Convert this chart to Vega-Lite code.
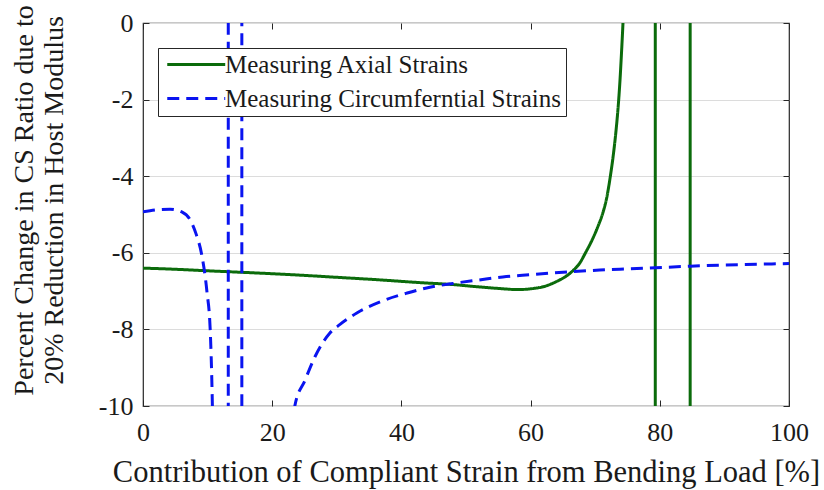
{
  "$schema": "https://vega.github.io/schema/vega-lite/v6.json",
  "width": 646,
  "height": 383,
  "autosize": {"type": "none"},
  "padding": {"left": 143, "top": 23, "right": 35, "bottom": 84},
  "background": "white",
  "config": {
    "view": {"stroke": "#262626", "strokeWidth": 1.2},
    "font": "Liberation Serif",
    "axis": {
      "labelFont": "Liberation Serif",
      "titleFont": "Liberation Serif",
      "labelColor": "#1a1a1a",
      "titleColor": "#1a1a1a",
      "titleFontWeight": "normal",
      "tickColor": "#262626",
      "tickSize": -6,
      "domain": false,
      "labelFlush": false,
      "labelOverlap": false,
      "labelExpr": "replace(datum.label, '\u2212', '-')"
    },
    "legend": {
      "labelFont": "Liberation Serif",
      "labelFontSize": 25,
      "labelColor": "#1a1a1a",
      "labelLimit": 0
    }
  },
  "data": {
    "values": [
      {"x": 0, "y": -6.4, "series": "Measuring Axial Strains", "seg": "a1"},
      {"x": 5, "y": -6.43, "series": "Measuring Axial Strains", "seg": "a1"},
      {"x": 10, "y": -6.47, "series": "Measuring Axial Strains", "seg": "a1"},
      {"x": 18, "y": -6.53, "series": "Measuring Axial Strains", "seg": "a1"},
      {"x": 25, "y": -6.59, "series": "Measuring Axial Strains", "seg": "a1"},
      {"x": 30, "y": -6.64, "series": "Measuring Axial Strains", "seg": "a1"},
      {"x": 36, "y": -6.7, "series": "Measuring Axial Strains", "seg": "a1"},
      {"x": 43, "y": -6.78, "series": "Measuring Axial Strains", "seg": "a1"},
      {"x": 48, "y": -6.83, "series": "Measuring Axial Strains", "seg": "a1"},
      {"x": 52, "y": -6.89, "series": "Measuring Axial Strains", "seg": "a1"},
      {"x": 55, "y": -6.93, "series": "Measuring Axial Strains", "seg": "a1"},
      {"x": 58, "y": -6.96, "series": "Measuring Axial Strains", "seg": "a1"},
      {"x": 60.5, "y": -6.93, "series": "Measuring Axial Strains", "seg": "a1"},
      {"x": 62.3, "y": -6.87, "series": "Measuring Axial Strains", "seg": "a1"},
      {"x": 63.5, "y": -6.79, "series": "Measuring Axial Strains", "seg": "a1"},
      {"x": 64.6, "y": -6.7, "series": "Measuring Axial Strains", "seg": "a1"},
      {"x": 65.6, "y": -6.6, "series": "Measuring Axial Strains", "seg": "a1"},
      {"x": 66.6, "y": -6.46, "series": "Measuring Axial Strains", "seg": "a1"},
      {"x": 67.6, "y": -6.27, "series": "Measuring Axial Strains", "seg": "a1"},
      {"x": 68.5, "y": -6.0, "series": "Measuring Axial Strains", "seg": "a1"},
      {"x": 69.7, "y": -5.6, "series": "Measuring Axial Strains", "seg": "a1"},
      {"x": 70.5, "y": -5.28, "series": "Measuring Axial Strains", "seg": "a1"},
      {"x": 71.2, "y": -4.95, "series": "Measuring Axial Strains", "seg": "a1"},
      {"x": 71.8, "y": -4.55, "series": "Measuring Axial Strains", "seg": "a1"},
      {"x": 72.3, "y": -4.05, "series": "Measuring Axial Strains", "seg": "a1"},
      {"x": 72.8, "y": -3.45, "series": "Measuring Axial Strains", "seg": "a1"},
      {"x": 73.2, "y": -2.85, "series": "Measuring Axial Strains", "seg": "a1"},
      {"x": 73.5, "y": -2.3, "series": "Measuring Axial Strains", "seg": "a1"},
      {"x": 73.8, "y": -1.6, "series": "Measuring Axial Strains", "seg": "a1"},
      {"x": 74.05, "y": -0.85, "series": "Measuring Axial Strains", "seg": "a1"},
      {"x": 74.3, "y": 0.0, "series": "Measuring Axial Strains", "seg": "a1"},
      {"x": 74.5, "y": 0.8, "series": "Measuring Axial Strains", "seg": "a1"},
      {"x": 79.3, "y": 1.0, "series": "Measuring Axial Strains", "seg": "a2"},
      {"x": 79.3, "y": -11.0, "series": "Measuring Axial Strains", "seg": "a2"},
      {"x": 84.7, "y": -11.0, "series": "Measuring Axial Strains", "seg": "a3"},
      {"x": 84.7, "y": 1.0, "series": "Measuring Axial Strains", "seg": "a3"},

      {"x": 0, "y": -4.93, "series": "Measuring Circumferntial Strains", "seg": "c1"},
      {"x": 2, "y": -4.88, "series": "Measuring Circumferntial Strains", "seg": "c1"},
      {"x": 4.2, "y": -4.86, "series": "Measuring Circumferntial Strains", "seg": "c1"},
      {"x": 6, "y": -4.93, "series": "Measuring Circumferntial Strains", "seg": "c1"},
      {"x": 7.3, "y": -5.14, "series": "Measuring Circumferntial Strains", "seg": "c1"},
      {"x": 8.2, "y": -5.5, "series": "Measuring Circumferntial Strains", "seg": "c1"},
      {"x": 9.1, "y": -6.06, "series": "Measuring Circumferntial Strains", "seg": "c1"},
      {"x": 9.9, "y": -7.02, "series": "Measuring Circumferntial Strains", "seg": "c1"},
      {"x": 10.4, "y": -8.0, "series": "Measuring Circumferntial Strains", "seg": "c1"},
      {"x": 10.7, "y": -9.66, "series": "Measuring Circumferntial Strains", "seg": "c1"},
      {"x": 10.8, "y": -10.5, "series": "Measuring Circumferntial Strains", "seg": "c1"},
      {"x": 13.2, "y": 1.0, "series": "Measuring Circumferntial Strains", "seg": "c2"},
      {"x": 13.2, "y": -11.0, "series": "Measuring Circumferntial Strains", "seg": "c2"},
      {"x": 15.3, "y": -11.0, "series": "Measuring Circumferntial Strains", "seg": "c3"},
      {"x": 15.3, "y": 1.0, "series": "Measuring Circumferntial Strains", "seg": "c3"},
      {"x": 23.2, "y": -10.6, "series": "Measuring Circumferntial Strains", "seg": "c4"},
      {"x": 23.5, "y": -10.0, "series": "Measuring Circumferntial Strains", "seg": "c4"},
      {"x": 25.1, "y": -9.32, "series": "Measuring Circumferntial Strains", "seg": "c4"},
      {"x": 26.6, "y": -8.72, "series": "Measuring Circumferntial Strains", "seg": "c4"},
      {"x": 28.9, "y": -8.1, "series": "Measuring Circumferntial Strains", "seg": "c4"},
      {"x": 30.5, "y": -7.87, "series": "Measuring Circumferntial Strains", "seg": "c4"},
      {"x": 33.1, "y": -7.57, "series": "Measuring Circumferntial Strains", "seg": "c4"},
      {"x": 36.7, "y": -7.28, "series": "Measuring Circumferntial Strains", "seg": "c4"},
      {"x": 40.9, "y": -7.05, "series": "Measuring Circumferntial Strains", "seg": "c4"},
      {"x": 44.4, "y": -6.9, "series": "Measuring Circumferntial Strains", "seg": "c4"},
      {"x": 48, "y": -6.8, "series": "Measuring Circumferntial Strains", "seg": "c4"},
      {"x": 52, "y": -6.71, "series": "Measuring Circumferntial Strains", "seg": "c4"},
      {"x": 55.7, "y": -6.63, "series": "Measuring Circumferntial Strains", "seg": "c4"},
      {"x": 60, "y": -6.57, "series": "Measuring Circumferntial Strains", "seg": "c4"},
      {"x": 63, "y": -6.53, "series": "Measuring Circumferntial Strains", "seg": "c4"},
      {"x": 66.6, "y": -6.49, "series": "Measuring Circumferntial Strains", "seg": "c4"},
      {"x": 70.7, "y": -6.45, "series": "Measuring Circumferntial Strains", "seg": "c4"},
      {"x": 75, "y": -6.42, "series": "Measuring Circumferntial Strains", "seg": "c4"},
      {"x": 79.3, "y": -6.39, "series": "Measuring Circumferntial Strains", "seg": "c4"},
      {"x": 84.7, "y": -6.35, "series": "Measuring Circumferntial Strains", "seg": "c4"},
      {"x": 90, "y": -6.32, "series": "Measuring Circumferntial Strains", "seg": "c4"},
      {"x": 95, "y": -6.3, "series": "Measuring Circumferntial Strains", "seg": "c4"},
      {"x": 100, "y": -6.28, "series": "Measuring Circumferntial Strains", "seg": "c4"}
    ]
  },
  "resolve": {"axis": {"x": "independent", "y": "independent"}},
  "layer": [
    {
      "mark": {"type": "line", "clip": true, "strokeWidth": 3, "interpolate": "monotone"},
      "encoding": {
        "x": {
          "field": "x",
          "type": "quantitative",
          "scale": {"domain": [0, 100], "nice": false, "zero": false},
          "axis": {
            "orient": "bottom",
            "values": [0, 20, 40, 60, 80, 100],
            "grid": false,
            "labelFontSize": 26,
            "labelPadding": 19,
            "title": "Contribution of Compliant Strain from Bending Load [%]",
            "titleFontSize": 30.5,
            "titleBaseline": "alphabetic",
            "titleY": 75
          }
        },
        "y": {
          "field": "y",
          "type": "quantitative",
          "scale": {"domain": [-10, 0], "nice": false, "zero": false},
          "axis": {
            "orient": "left",
            "values": [0, -2, -4, -6, -8, -10],
            "grid": true,
            "gridColor": "#dcdcdc",
            "gridWidth": 1,
            "labelFontSize": 26,
            "labelPadding": 16,
            "labelBaseline": "middle",
            "title": ["Percent Change in CS Ratio due to", "20% Reduction in Host Modulus"],
            "titleFontSize": 28,
            "titleLineHeight": 30,
            "titleAngle": 270,
            "titleAlign": "center",
            "titleBaseline": "alphabetic",
            "titleX": -111,
            "titleY": 177
          }
        },
        "detail": {"field": "seg"},
        "color": {
          "field": "series",
          "type": "nominal",
          "scale": {
            "domain": ["Measuring Axial Strains", "Measuring Circumferntial Strains"],
            "range": ["#0b6b0b", "#0a14f0"]
          },
          "legend": {
            "title": null,
            "orient": "none",
            "legendX": 15,
            "legendY": 25,
            "fillColor": "white",
            "strokeColor": "#262626",
            "padding": 4,
            "symbolType": "M-1,0H7",
            "symbolSize": 210,
            "symbolStrokeWidth": 3,
            "labelOffset": 38,
            "rowPadding": 8
          }
        },
        "strokeDash": {
          "field": "series",
          "type": "nominal",
          "scale": {
            "domain": ["Measuring Axial Strains", "Measuring Circumferntial Strains"],
            "range": [[1, 0], [12, 7]]
          },
          "legend": {
            "title": null,
            "orient": "none",
            "legendX": 15,
            "legendY": 25,
            "fillColor": "white",
            "strokeColor": "#262626",
            "padding": 4,
            "symbolType": "M-1,0H7",
            "symbolSize": 210,
            "symbolStrokeWidth": 3,
            "labelOffset": 38,
            "rowPadding": 8
          }
        }
      }
    },
    {
      "mark": {"type": "line", "opacity": 0},
      "encoding": {
        "x": {
          "field": "x",
          "type": "quantitative",
          "axis": {
            "orient": "top",
            "values": [0, 20, 40, 60, 80, 100],
            "labels": false,
            "grid": false,
            "title": null
          }
        },
        "y": {
          "field": "y",
          "type": "quantitative",
          "axis": {
            "orient": "right",
            "values": [0, -2, -4, -6, -8, -10],
            "labels": false,
            "grid": false,
            "title": null
          }
        },
        "detail": {"field": "seg"}
      }
    }
  ]
}
